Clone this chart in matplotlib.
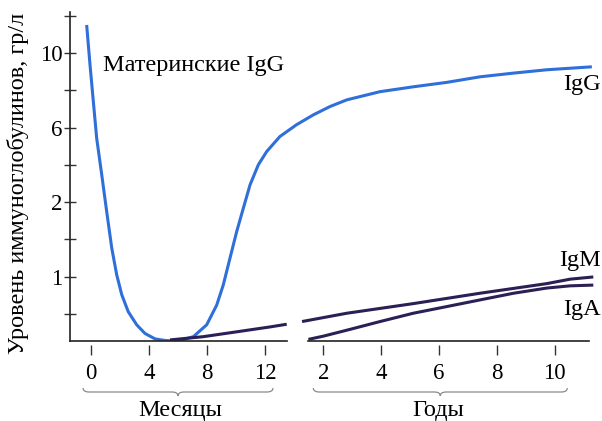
import numpy as np
import matplotlib
matplotlib.use("Agg")
import matplotlib.pyplot as plt
from matplotlib.path import Path
from matplotlib.patches import PathPatch

plt.rcParams['font.family'] = ['Liberation Serif', 'DejaVu Serif']

# data (x in months / years, y in g/l)
igg_months = [-0.3, -0.07, 0.16, 0.39, 0.74, 1.08, 1.43, 1.77, 2.12, 2.57,
              3.15, 3.72, 4.41, 5.1, 5.8, 6.14, 7.06, 7.98, 8.67, 9.12,
              9.59, 10.05, 10.5, 10.97, 11.54, 12.12, 13.03]
igg_months_val = [11.5, 9.35, 7.38, 5.44, 3.46, 1.87, 1.38, 1.03, 0.76, 0.53,
                  0.30, 0.14, 0.04, 0.01, 0.0, 0.01, 0.08, 0.30, 0.62, 0.89,
                  1.25, 1.60, 1.91, 2.92, 4.0, 4.72, 5.53]
igg_years = [1.28, 1.65, 2.23, 2.81, 3.96, 5.11, 6.27, 7.42, 8.58, 9.73, 11.29]
igg_years_val = [6.16, 6.68, 7.12, 7.47, 7.9, 8.16, 8.4, 8.7, 8.9, 9.08, 9.24]

igm_months = [5.45, 7.74, 10.05, 12.34, 13.5]
igm_months_val = [0.02, 0.08, 0.17, 0.26, 0.31]
igm_years = [1.37, 2.81, 5.11, 7.42, 9.73, 10.54, 11.34]
igm_years_val = [0.36, 0.51, 0.64, 0.78, 0.91, 0.97, 1.0]

iga_years = [1.48, 2.0, 2.81, 3.96, 5.11, 6.27, 7.42, 8.58, 9.73, 10.54, 11.34]
iga_years_val = [0.03, 0.09, 0.2, 0.36, 0.51, 0.6, 0.69, 0.78, 0.85, 0.88, 0.89]

month_ticks = [0, 4, 8, 12]
year_ticks = [2, 4, 6, 8, 10]
y_major = [1, 2, 6, 10]
y_minor = [0.5, 1.5, 4, 8, 12]

BLUE = "#2f6fd9"
DARK = "#2b1f55"

# piecewise scales of the original drawing
y_vals = [0, 0.5, 1, 1.5, 2, 4, 6, 8, 10, 12, 14]
y_pos = [0, 27, 64, 102, 139, 176, 213, 251, 288, 325, 362]
x_vals = [-10, -1.45, 13.52, 17.6, 134.3, 300]
x_pos = [-54, 70, 287, 308, 589, 988]


def yf(v):
    return np.interp(v, y_vals, y_pos)


def yi(p):
    return np.interp(p, y_pos, y_vals)


def xf(v):
    return np.interp(v, x_vals, x_pos)


def xi(p):
    return np.interp(p, x_pos, x_vals)


fig = plt.figure(figsize=(6.02, 4.21), dpi=100)
ax = fig.add_axes([70 / 602, 80 / 421, 526 / 602, 329 / 421])
ax.set_xscale('function', functions=(xf, xi))
ax.set_yscale('function', functions=(yf, yi))
ax.set_xlim(-1.45, 137.2)
ax.set_ylim(0, 12.2)

to_m = lambda ys: [y * 12 for y in ys]
line_kw = dict(lw=2.2, solid_capstyle='butt', solid_joinstyle='round')

ax.plot(list(igg_months) + to_m(igg_years), igg_months_val + igg_years_val,
        color=BLUE, **line_kw)
ax.plot(igm_months, igm_months_val, color=DARK, **line_kw)
ax.plot(to_m(igm_years), igm_years_val, color=DARK, **line_kw)
ax.plot(to_m(iga_years), iga_years_val, color=DARK, **line_kw)

# axes styling
for s in ['top', 'right']:
    ax.spines[s].set_visible(False)
ax.spines['bottom'].set_position(('outward', 3))
ax.spines['bottom'].set_visible(False)
ax.spines['left'].set_color('#222222')
ax.spines['left'].set_linewidth(1.2)

xt = month_ticks + [y * 12 for y in year_ticks]
ax.set_xticks(xt)
ax.set_xticklabels([str(t) for t in month_ticks] + [str(t) for t in year_ticks])
ax.xaxis.set_minor_locator(matplotlib.ticker.NullLocator())
ax.tick_params(axis='x', direction='out', length=7.5, width=1, color='#333333',
               pad=5, labelsize=16.5)

ax.set_yticks(y_major)
ax.set_yticklabels([str(t) for t in y_major])
ax.set_yticks(y_minor, minor=True)
ax.tick_params(axis='y', which='both', direction='inout', length=9, width=1,
               color='#333333', pad=1, labelsize=16.5)

xa = ax.get_xaxis_transform()
ax.plot([-1.45, 13.52], [0, 0], color='#222222', lw=1.2, transform=xa, clip_on=False)
ax.plot([17.6, 134.3], [0, 0], color='#222222', lw=1.2, transform=xa, clip_on=False)

# labels
fs = 17.5
ax.text(0.8, 9.3, "Материнские IgG", fontsize=fs, va='center', ha='left')
ax.text(11.6 * 12, 8.3, "IgG", fontsize=fs, va='center', ha='right', clip_on=False)
ax.text(11.6 * 12, 1.22, "IgM", fontsize=fs, va='center', ha='right', clip_on=False)
ax.text(11.6 * 12, 0.56, "IgA", fontsize=fs, va='center', ha='right', clip_on=False)

ax.text(6.14, -0.21, "Месяцы", fontsize=fs, ha='center', va='center', transform=xa)
ax.text(5.97 * 12, -0.21, "Годы", fontsize=fs, ha='center', va='center', transform=xa)

fig.text(18 / 602, (421 - 183) / 421, "Уровень иммуноглобулинов, гр/л",
         rotation=90, fontsize=fs, ha='center', va='center')


def brace(x0, x1, ybase):
    p0 = ax.transData.transform((x0, 1))[0]
    p1 = ax.transData.transform((x1, 1))[0]
    pm = (p0 + p1) / 2
    verts = [(p0, ybase + 4), (p0, ybase), (p0 + 6, ybase),
             (pm - 6, ybase), (pm, ybase), (pm, ybase - 4),
             (pm, ybase), (pm + 6, ybase),
             (p1 - 6, ybase), (p1, ybase), (p1, ybase + 4)]
    codes = [Path.MOVETO, Path.CURVE3, Path.CURVE3,
             Path.LINETO, Path.CURVE3, Path.CURVE3,
             Path.CURVE3, Path.CURVE3,
             Path.LINETO, Path.CURVE3, Path.CURVE3]
    fig.add_artist(PathPatch(Path(verts, codes), fill=False, edgecolor='#8a8a8a',
                             lw=0.9, transform=None))


brace(-0.55, 12.55, 421 - 392)
brace(1.65 * 12, 10.44 * 12, 421 - 392)

fig.savefig("out.png", dpi=100)
